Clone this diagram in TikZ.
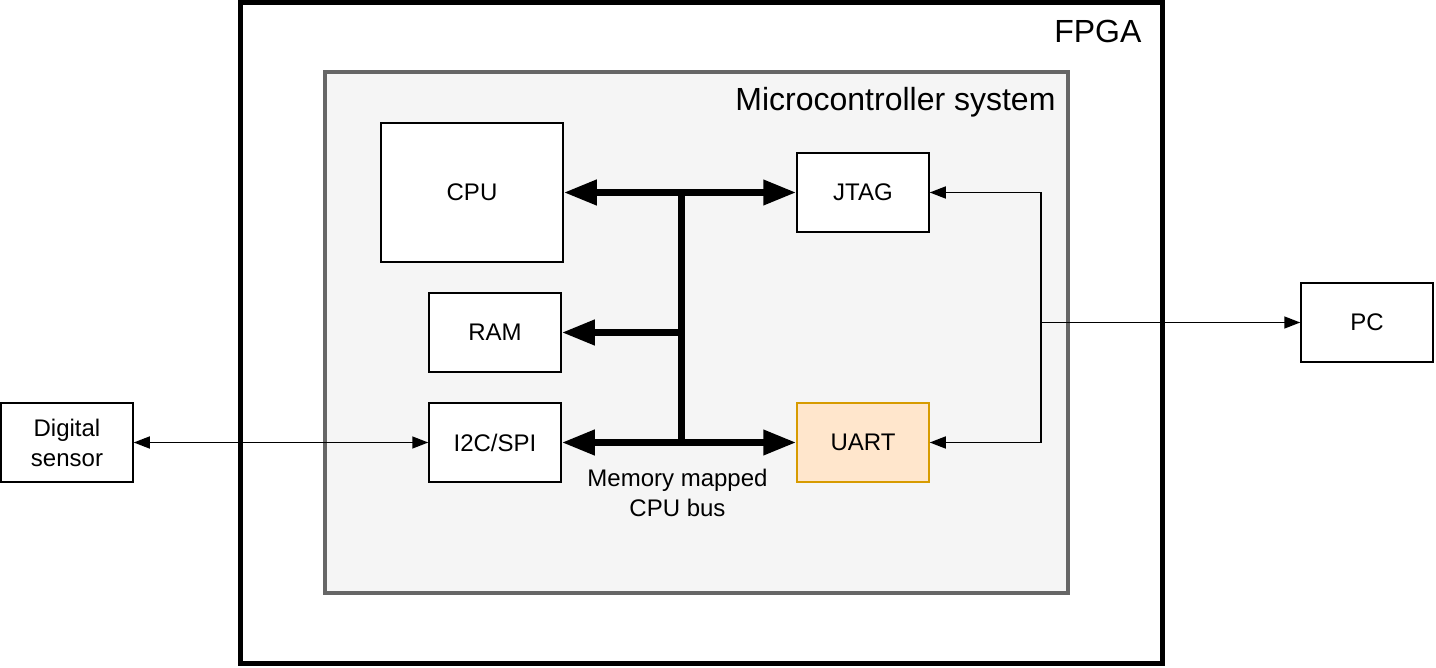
\documentclass[tikz,border=0pt]{standalone}
\usepackage{fontspec}
\setmainfont{Liberation Sans}
\usetikzlibrary{arrows.meta, positioning, calc}
\definecolor{mcufill}{HTML}{F5F5F5}
\definecolor{mculine}{HTML}{666666}
\definecolor{uartfill}{HTML}{FFE6CC}
\definecolor{uartline}{HTML}{D79B00}
\tikzstyle{block} = [rectangle, draw=black, line width=1.5pt, fill=white, text centered, align=center, font=\fontsize{24}{30}\selectfont, inner sep=0pt]
\tikzstyle{bus} = [line width=7pt, -{Triangle[length=33pt, width=24pt]}]
\tikzstyle{busboth} = [line width=7pt, {Triangle[length=33pt, width=24pt]}-{Triangle[length=33pt, width=24pt]}]
\tikzstyle{link} = [line width=1.5pt, -{Triangle[length=16pt, width=12pt]}]
\tikzstyle{linkboth} = [line width=1.5pt, {Triangle[length=16pt, width=12pt]}-{Triangle[length=16pt, width=12pt]}]

\begin{document}
\begin{tikzpicture}[x=1pt, y=-1pt]
    \useasboundingbox (0,0) rectangle (1436,668);

    % Containers
    \draw[line width=5pt, fill=white] (240,2.5) rectangle (1162,663) coordinate (fpgase);
    \node[anchor=east, font=\fontsize{32}{38}\selectfont] (fpgalabel) at (1145,31) {FPGA};
    \draw[line width=4pt, draw=mculine, fill=mcufill] (325,72) rectangle (1068,593);
    \node[anchor=east, font=\fontsize{32}{38}\selectfont] (mculabel) at (1059,102) {Microcontroller system};

    % Blocks inside the microcontroller
    \node[block, minimum width=182pt, minimum height=139pt] (cpu) at (472,192.5) {CPU};
    \node[block, minimum width=132pt, minimum height=79pt] (jtag) at (863,192.5) {JTAG};
    \node[block, minimum width=132pt, minimum height=79pt] (ram) at (495,332.5) {RAM};
    \node[block, minimum width=132pt, minimum height=79pt] (i2c) at (495,442.5) {I2C/SPI};
    \node[block, minimum width=132pt, minimum height=79pt, fill=uartfill, draw=uartline] (uart) at (863,442.5) {UART};

    % Outside blocks
    \node[block, minimum width=132pt, minimum height=79pt] (pc) at (1367,322.5) {PC};
    \node[block, minimum width=132pt, minimum height=79pt] (sensor) at (67,442.5) {Digital\\sensor};

    % Bus
    \coordinate (bustop) at (681,192.5);
    \coordinate (busram) at (681,332.5);
    \coordinate (busbot) at (681,442.5);
    \draw[line width=7pt] (bustop) -- (busbot);
    \draw[busboth] (cpu.east) -- (jtag.west);
    \draw[bus] (busram) -- (ram.east);
    \draw[busboth] (i2c.east) -- (uart.west);
    \node[align=center, font=\fontsize{24}{30}\selectfont, inner sep=0pt] (buslabel) at (677.5,493) {Memory mapped\\CPU bus};

    % Debug and serial links
    \coordinate (split) at (1041,322.5);
    \draw[link] (split) |- (jtag.east);
    \draw[link] (split) |- (uart.east);
    \draw[link] (split) -- (pc.west);
    \draw[linkboth] (sensor.east) -- (i2c.west);

\end{tikzpicture}
\end{document}
